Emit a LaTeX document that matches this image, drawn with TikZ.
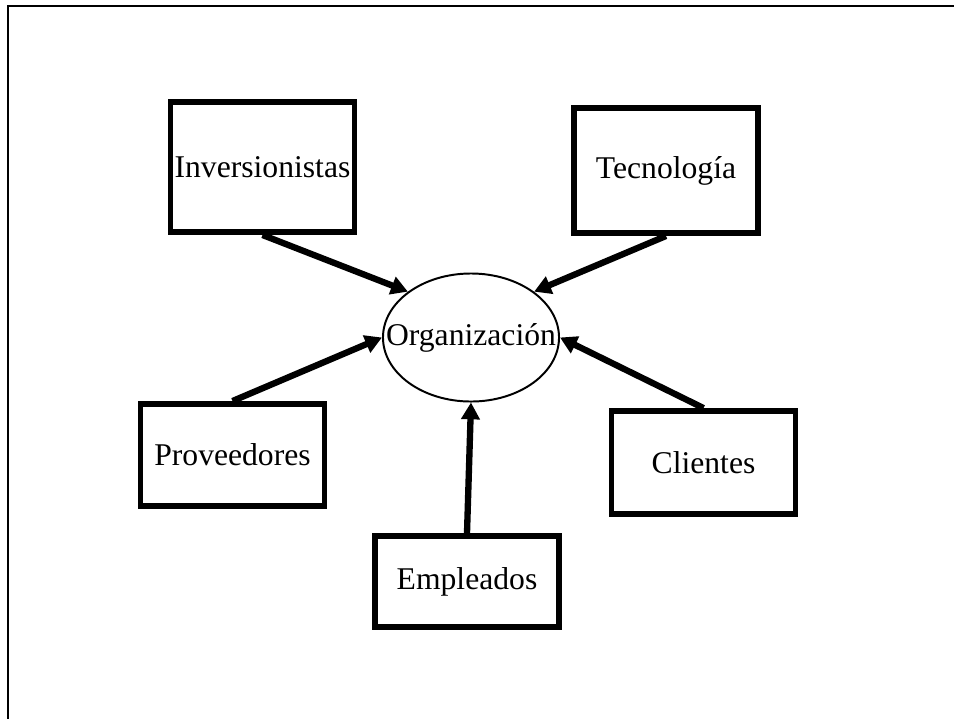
\documentclass[tikz,border=0pt]{standalone}
\usepackage{fontspec}
\setmainfont{Liberation Serif}
\usetikzlibrary{arrows.meta,shapes.geometric}

\tikzset{every picture/.style={line width=0.75pt}}

\begin{document}
\begin{tikzpicture}[
    x=0.025cm, y=-0.025cm,
    every node/.style={font=\fontsize{22.5}{27}\selectfont, inner sep=0pt},
    actor/.style={draw, rectangle, line width=4.2pt, minimum width=4.6cm},
    flow/.style={-{Triangle[length=0.42cm, width=0.45cm]}, line width=4.5pt},
]
    \useasboundingbox (0,0) rectangle (954,719);

    % frame
    \coordinate (frame) at (8,6);
    \draw[line width=1.4pt] (954,6) -- (frame) -- (8,719);

    \node[ellipse, draw, line width=1.4pt, minimum width=4.4cm, minimum height=3.2cm] (org) at (471,337.5) {\makebox[0pt]{Organización}};

    \node[actor, minimum height=3.25cm] (inv) at (262.5,167) {Inversionistas};
    \node[actor, minimum height=3.125cm] (tec) at (666,170.5) {Tecnología};
    \node[actor, minimum height=2.55cm] (prov) at (232.5,455) {Proveedores};
    \node[actor, minimum height=2.575cm] (cli) at (703.5,462.5) {Clientes};
    \node[actor, minimum height=2.275cm] (emp) at (467,581.5) {Empleados};

    \draw[flow] (inv.south) -- (org.144);
    \draw[flow] (tec.south) -- (org.36);
    \draw[flow] (prov.north) -- (org.west);
    \draw[flow] (cli.north) -- (org.east);
    \draw[flow] (emp.north) -- (org.south);
\end{tikzpicture}
\end{document}
